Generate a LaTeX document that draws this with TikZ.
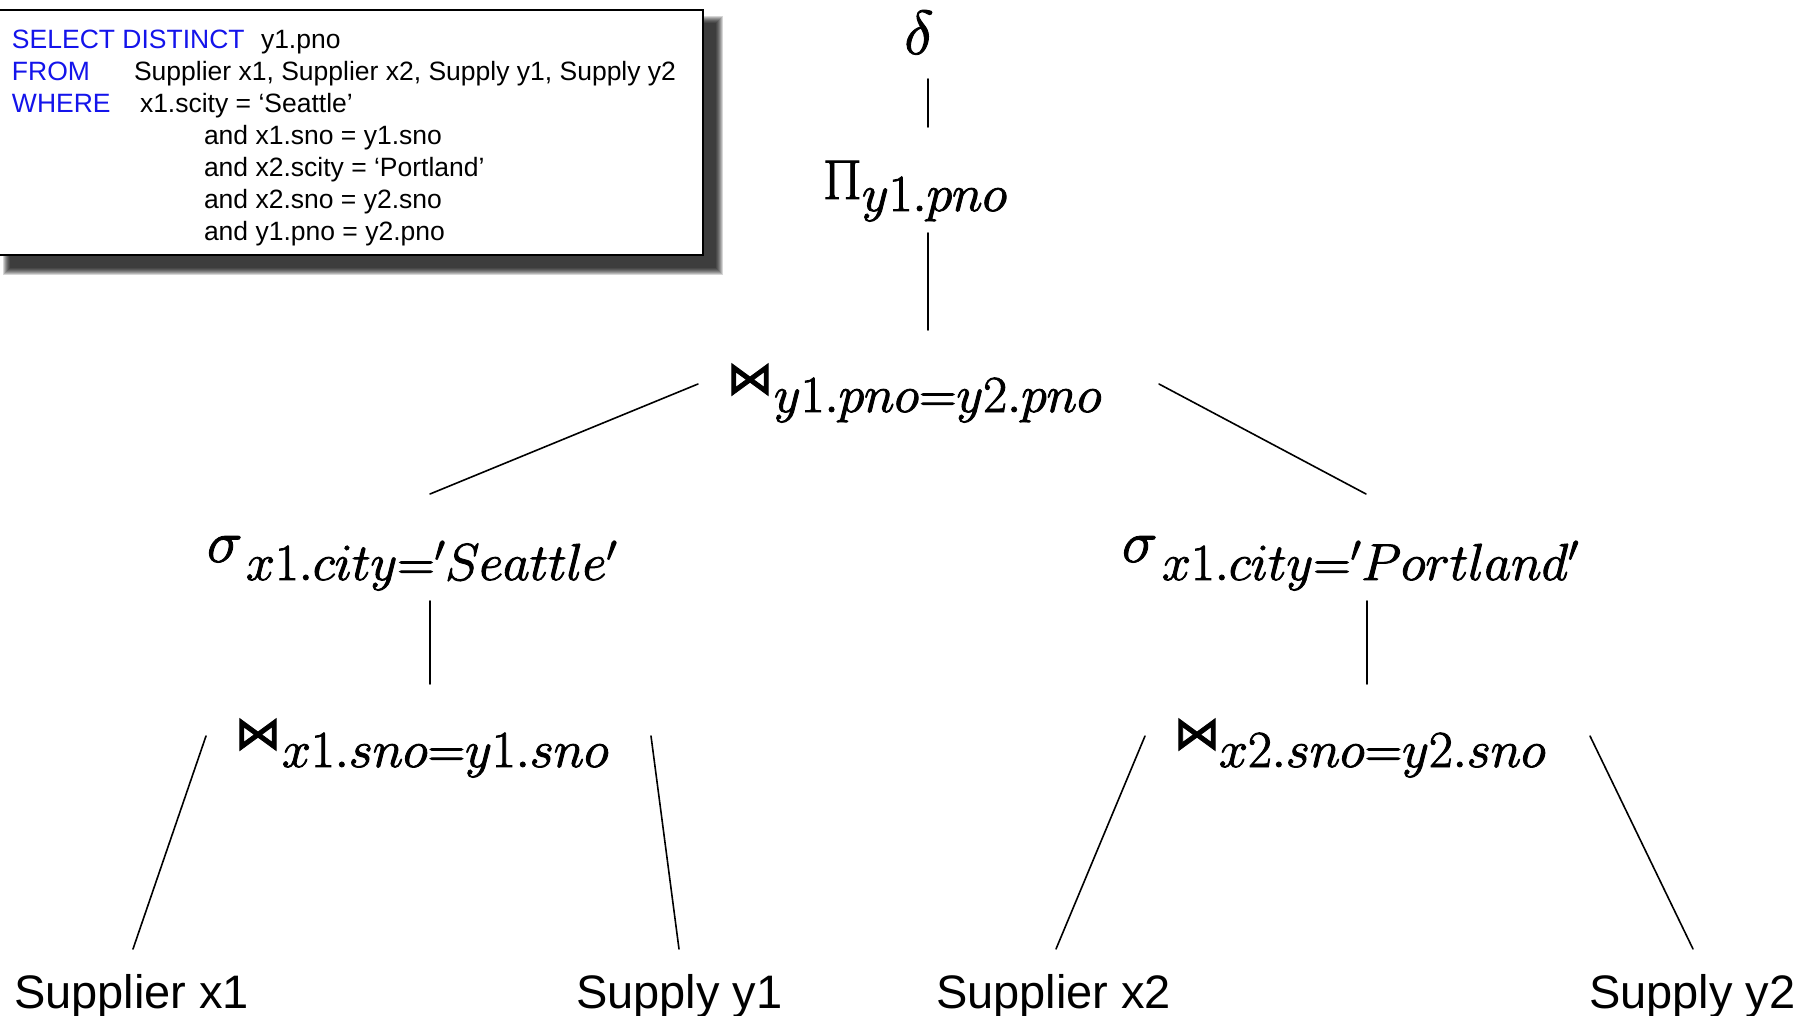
\RequirePackage{fix-cm}
\documentclass[tikz,border=0pt]{standalone}
\usepackage[no-math]{fontspec}
\usetikzlibrary{backgrounds}
\newfontfamily\sqlsans{Liberation Sans}
\newfontfamily\bowfont{DejaVu Sans}
\definecolor{kwblue}{RGB}{20,20,235}

% slightly heavier glyph strokes for the algebra formulas
\newcommand{\heavyglyphs}{\special{pdf:literal 2 Tr 0.9 w}}
% operator symbol in a fixed-width box, followed by a lowered subscript
\newcommand{\opwithsub}[4]{\heavyglyphs\makebox[#1][l]{#2}\raisebox{-#3}{\fontsize{52}{56}\selectfont$#4$}}
\newcommand{\bowsym}{{\bowfont\fontsize{46}{50}\selectfont ⋈}}
\newcommand{\sigsym}{{\fontsize{60}{64}\selectfont$\sigma$}}

\tikzset{
  every node/.style={inner sep=0pt, outer sep=0pt},
  sqltext/.style={anchor=base west, font=\sqlsans\fontsize{26.5}{30}\selectfont},
  keyword/.style={sqltext, text=kwblue},
  leaf/.style={anchor=base west, font=\sqlsans\fontsize{47}{52}\selectfont},
  op/.style={anchor=base west},
  edge/.style={line width=1.6pt, line cap=round},
  sqlbox/.style={draw, line width=2.5pt, fill=white, anchor=north west},
}

\begin{document}
\begin{tikzpicture}[x=1pt,y=-1pt]
\useasboundingbox (0,0) rectangle (1817,1016);

% SQL query box with a soft drop shadow
\node[sqlbox, minimum width=704pt, minimum height=245pt] (sql) at (-1,10) {};
\begin{scope}[on background layer]
  \fill[white] (0,0) rectangle (1817,1016);
  \foreach \k in {0,...,7}
    \fill[black, opacity=0.16]
      ([shift={(4+\k,6+\k)}]sql.north west) rectangle ([shift={(20-\k,20-\k)}]sql.south east);
\end{scope}

\node[keyword] (kwsel) at (12,49) {SELECT DISTINCT};
\node[sqltext] (qsel) at (261,49) {y1.pno};
\node[keyword] (kwfrom) at (12,81) {FROM};
\node[sqltext] (qfrom) at (134,81) {Supplier x1, Supplier x2, Supply y1, Supply y2};
\node[keyword] (kwwhere) at (12,113) {WHERE};
\node[sqltext] (qw1) at (140,113) {x1.scity = ‘Seattle’};
\node[sqltext] (qw2) at (204,145) {and x1.sno = y1.sno};
\node[sqltext] (qw3) at (204,177) {and x2.scity = ‘Portland’};
\node[sqltext] (qw4) at (204,209) {and x2.sno = y2.sno};
\node[sqltext] (qw5) at (204,241) {and y1.pno = y2.pno};

% relational algebra plan
\node[anchor=base] (delta) at (919,54) {\heavyglyphs\fontsize{62}{66}\selectfont$\delta$};
\node[op] (proj) at (823,199) {\opwithsub{39pt}{\fontsize{56}{60}\selectfont$\Pi$}{12pt}{y1.pno}};
\node[op] (jtop) at (727,394) {\opwithsub{47pt}{\bowsym}{18pt}{y1.pno{=}y2.pno}};
\node[op] (selS) at (207,562) {\opwithsub{39pt}{\sigsym}{18pt}{x1.city{=}'Seattle'}};
\node[op] (selP) at (1122,562) {\opwithsub{40pt}{\sigsym}{18pt}{x1.city{=}'Portland'}};
\node[op] (jL) at (235,749) {\opwithsub{47pt}{\bowsym}{18pt}{x1.sno{=}y1.sno}};
\node[op] (jR) at (1174,749) {\opwithsub{45pt}{\bowsym}{18pt}{x2.sno{=}y2.sno}};

\node[leaf] (sx1) at (14,1008) {Supplier x1};
\node[leaf] (sy1) at (576,1008) {Supply y1};
\node[leaf] (sx2) at (936,1008) {Supplier x2};
\node[leaf] (sy2) at (1589,1008) {Supply y2};

% tree edges
\draw[edge] ([shift={(9,25)}]delta.base) -- ([shift={(105,-72)}]proj.base west);
\draw[edge] ([shift={(105,34)}]proj.base west) -- ([shift={(201,-64)}]jtop.base west);
\draw[edge] ([shift={(-29,-10)}]jtop.base west) -- ([shift={(223,-68)}]selS.base west);
\draw[edge] ([shift={(432,-10)}]jtop.base west) -- ([shift={(244,-68)}]selP.base west);
\draw[edge] ([shift={(223,39)}]selS.base west) -- ([shift={(195,-65)}]jL.base west);
\draw[edge] ([shift={(245,39)}]selP.base west) -- ([shift={(193,-65)}]jR.base west);
\draw[edge] ([shift={(-29,-13)}]jL.base west) -- ([shift={(119,-59)}]sx1.base west);
\draw[edge] ([shift={(416,-13)}]jL.base west) -- ([shift={(103,-59)}]sy1.base west);
\draw[edge] ([shift={(-29,-13)}]jR.base west) -- ([shift={(120,-59)}]sx2.base west);
\draw[edge] ([shift={(416,-13)}]jR.base west) -- ([shift={(104,-59)}]sy2.base west);
\end{tikzpicture}
\end{document}
